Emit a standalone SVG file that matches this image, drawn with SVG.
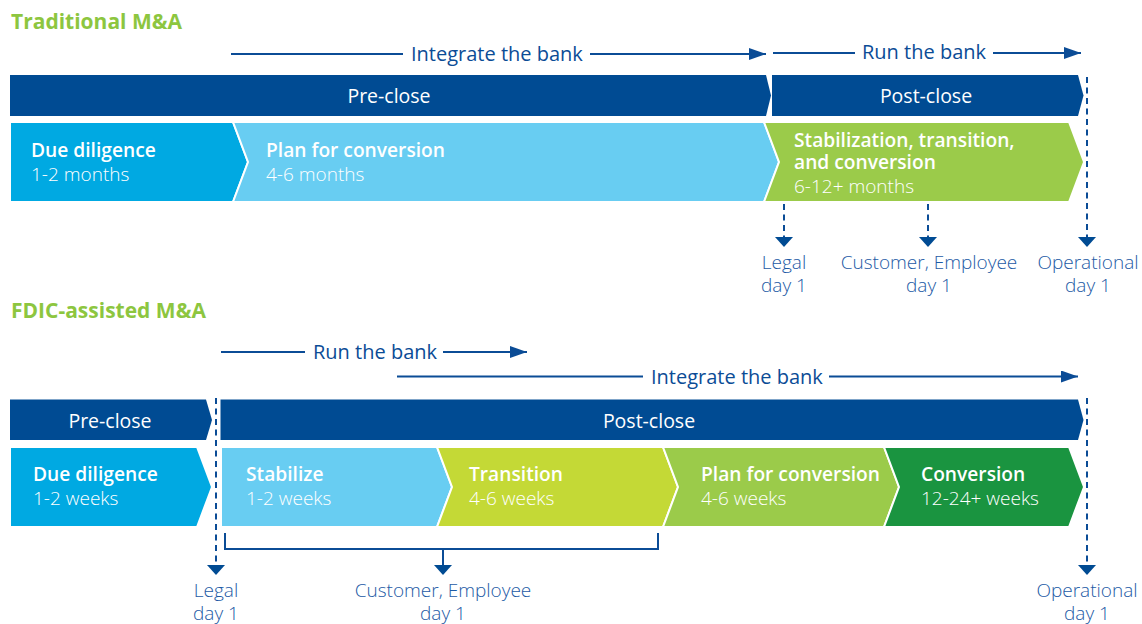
<svg xmlns="http://www.w3.org/2000/svg" width="1142" height="624" viewBox="0 0 1142 624">
  <defs>
    <style>
      .title { font-family: "Open Sans", "Liberation Sans", sans-serif; font-weight: 700; font-size: 21px; fill: #8DC63F; }
      .bar { fill: #004B93; }
      .bartext { font-family: "Open Sans", "Liberation Sans", sans-serif; font-size: 19.5px; fill: #FFFFFF; text-anchor: middle; }
      .chev { stroke: #FFFFFF; stroke-width: 2; stroke-linejoin: miter; }
      .head { font-family: "Open Sans", "Liberation Sans", sans-serif; font-weight: 600; font-size: 19.2px; fill: #FFFFFF; }
      .sub { font-family: "Open Sans", "Liberation Sans", sans-serif; font-weight: 300; font-size: 19px; fill: #FFFFFF; }
      .flow { stroke: #0B4C96; stroke-width: 2; fill: none; }
      .flowtext { font-family: "Open Sans", "Liberation Sans", sans-serif; font-size: 20px; fill: #0B4C96; }
      .dash { stroke: #0B4C96; stroke-width: 2; stroke-dasharray: 6 4.5; fill: none; }
      .tick { fill: #004B93; }
      .label { font-family: "Open Sans", "Liberation Sans", sans-serif; font-weight: 300; font-size: 19px; fill: #1D5AA5; text-anchor: middle; }
      .c-dd { fill: #00A9E2; }
      .c-lb { fill: #68CDF2; }
      .c-gr { fill: #9BCB4A; }
      .c-ly { fill: #C4D936; }
      .c-dg { fill: #1A9440; }
    </style>
    <marker id="arrowFlow" viewBox="0 0 17 12" refX="17" refY="6" markerWidth="17" markerHeight="12" markerUnits="userSpaceOnUse" orient="auto">
      <path d="M0,0 L17,6 L0,12 Z" fill="#0B4C96"/>
    </marker>
  </defs>

  <!-- Traditional M&A -->
  <text class="title" x="11" y="29">Traditional M&amp;A</text>

  <g id="trad-preclose">
    <polygon class="bar" points="10,75 766,75 771,95.5 766,116 10,116"/>
    <text class="bartext" x="389" y="103">Pre-close</text>
  </g>
  <g id="trad-postclose">
    <polygon class="bar" points="772,75 1078,75 1083.5,95.5 1078,116 772,116"/>
    <text class="bartext" x="926" y="103">Post-close</text>
  </g>

  <g id="trad-due-diligence">
    <polygon class="chev c-dd" points="10,122 233,122 248,162 233,202 10,202"/>
    <text class="head" x="31" y="157">Due diligence</text>
    <text class="sub" x="31" y="180.5">1-2 months</text>
  </g>
  <g id="trad-plan">
    <polygon class="chev c-lb" points="233,122 764,122 779,162 764,202 233,202 248,162"/>
    <text class="head" x="266" y="157">Plan for conversion</text>
    <text class="sub" x="266" y="180.5">4-6 months</text>
  </g>
  <g id="trad-stabilization">
    <polygon class="chev c-gr" points="764,122 1069,122 1084,162 1069,202 764,202 779,162"/>
    <text class="head" x="794" y="147">Stabilization, transition,</text>
    <text class="head" x="794" y="168.5">and conversion</text>
    <text class="sub" x="794" y="192.5">6-12+ months</text>
  </g>

  <g id="trad-legal-day1">
    <text class="label" x="784" y="269">Legal</text>
    <text class="label" x="784" y="292">day 1</text>
  </g>
  <g id="trad-customer-day1">
    <text class="label" x="929" y="269">Customer, Employee</text>
    <text class="label" x="929" y="292">day 1</text>
  </g>
  <g id="trad-operational-day1">
    <text class="label" x="1088" y="269">Operational</text>
    <text class="label" x="1088" y="292">day 1</text>
  </g>

  <g id="trad-connectors">
    <line class="flow" x1="231" y1="54" x2="403" y2="54"/>
    <text class="flowtext" x="411" y="61">Integrate the bank</text>
    <line class="flow" x1="590" y1="54" x2="766" y2="54" marker-end="url(#arrowFlow)"/>
    <line class="flow" x1="773" y1="53" x2="855" y2="53"/>
    <text class="flowtext" x="862" y="59">Run the bank</text>
    <line class="flow" x1="993" y1="53" x2="1081" y2="53" marker-end="url(#arrowFlow)"/>

    <line class="dash" x1="784" y1="204" x2="784" y2="237"/>
    <polygon class="tick" points="775,237 793,237 784,247"/>
    <line class="dash" x1="928" y1="204" x2="928" y2="237"/>
    <polygon class="tick" points="919,237 937,237 928,247"/>
    <line class="dash" x1="1087" y1="77" x2="1087" y2="237"/>
    <polygon class="tick" points="1078,237 1096,237 1087,247"/>
  </g>

  <!-- FDIC-assisted M&A -->
  <text class="title" x="11" y="318">FDIC-assisted M&amp;A</text>

  <g id="fdic-preclose">
    <polygon class="bar" points="10,399.5 206,399.5 212,420 206,440 10,440"/>
    <text class="bartext" x="110" y="427.5">Pre-close</text>
  </g>
  <g id="fdic-postclose">
    <polygon class="bar" points="220.5,399.5 1078,399.5 1083.5,420 1078,440 220.5,440"/>
    <text class="bartext" x="649" y="427.5">Post-close</text>
  </g>

  <g id="fdic-due-diligence">
    <polygon class="chev c-dd" points="10,447 197,447 212,487 197,527 10,527"/>
    <text class="head" x="33" y="481">Due diligence</text>
    <text class="sub" x="33" y="505">1-2 weeks</text>
  </g>
  <g id="fdic-stabilize">
    <polygon class="chev c-lb" points="221,447 437,447 452,487 437,527 221,527"/>
    <text class="head" x="246" y="481">Stabilize</text>
    <text class="sub" x="246" y="505">1-2 weeks</text>
  </g>
  <g id="fdic-transition">
    <polygon class="chev c-ly" points="437,447 663,447 678,487 663,527 437,527 452,487"/>
    <text class="head" x="469" y="481">Transition</text>
    <text class="sub" x="469" y="505">4-6 weeks</text>
  </g>
  <g id="fdic-plan">
    <polygon class="chev c-gr" points="663,447 884,447 899,487 884,527 663,527 678,487"/>
    <text class="head" x="701" y="481">Plan for conversion</text>
    <text class="sub" x="701" y="505">4-6 weeks</text>
  </g>
  <g id="fdic-conversion">
    <polygon class="chev c-dg" points="884,447 1069,447 1084,487 1069,527 884,527 899,487"/>
    <text class="head" x="921" y="481">Conversion</text>
    <text class="sub" x="921" y="505">12-24+ weeks</text>
  </g>

  <g id="fdic-legal-day1">
    <text class="label" x="216" y="597">Legal</text>
    <text class="label" x="216" y="620">day 1</text>
  </g>
  <g id="fdic-customer-day1">
    <text class="label" x="443" y="597">Customer, Employee</text>
    <text class="label" x="443" y="620">day 1</text>
  </g>
  <g id="fdic-operational-day1">
    <text class="label" x="1087" y="597">Operational</text>
    <text class="label" x="1087" y="620">day 1</text>
  </g>

  <g id="fdic-connectors">
    <line class="flow" x1="221" y1="352" x2="305" y2="352"/>
    <text class="flowtext" x="313" y="359">Run the bank</text>
    <line class="flow" x1="443" y1="352" x2="527" y2="352" marker-end="url(#arrowFlow)"/>
    <line class="flow" x1="397" y1="376.5" x2="643" y2="376.5"/>
    <text class="flowtext" x="651" y="383.5">Integrate the bank</text>
    <line class="flow" x1="829" y1="376.5" x2="1078" y2="376.5" marker-end="url(#arrowFlow)"/>

    <line class="dash" x1="216" y1="398" x2="216" y2="565"/>
    <polygon class="tick" points="207,565 225,565 216,575"/>
    <line class="dash" x1="1087" y1="398" x2="1087" y2="565"/>
    <polygon class="tick" points="1078,565 1096,565 1087,575"/>

    <polyline class="flow" points="225,533 225,549 658,549 658,533"/>
    <line class="flow" x1="443" y1="549" x2="443" y2="565"/>
    <polygon class="tick" points="434,565 452,565 443,575"/>
  </g>
</svg>
